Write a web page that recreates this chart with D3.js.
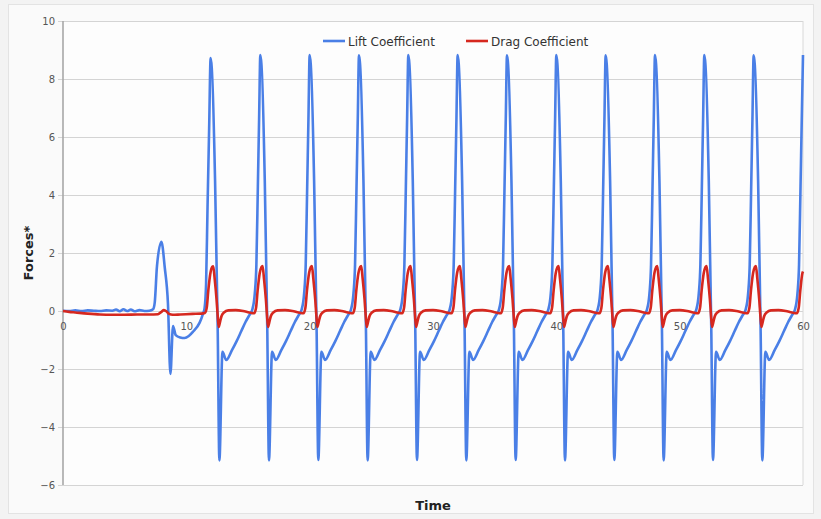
<!DOCTYPE html>
<html>
<head>
<meta charset="utf-8">
<script src="https://cdn.jsdelivr.net/npm/d3@7"></script>
<style>
  html, body { margin: 0; padding: 0; background: #f3f3f3; }
  svg { display: block; }
</style>
</head>
<body>
<svg id="chart" width="821" height="519"></svg>
<script>
// ---- Data ----
const seriesNames = ["Lift Coefficient", "Drag Coefficient"];
const xTickValues = [0, 10, 20, 30, 40, 50, 60];
const yTickValues = [-6, -4, -2, 0, 2, 4, 6, 8, 10];
const xLabel = "Time";
const yLabel = "Forces*";

// Lift coefficient: [time, value]
const liftSeries = [
  [0,0.01],[0.5,0.0],[1,0.02],[1.5,0.0],[2,0.02],[2.5,0.01],[3,0.0],[3.5,0.02],[4,0.01],[4.3,0.05],[4.6,-0.01],[4.9,0.06],[5.2,0.0],[5.5,0.05],[5.8,-0.01],[6.2,0.03],[6.6,0.0],[7.0,0.01],[7.3,0.06],
  [7.44,0.3],[7.62,1.55],[7.98,2.39],[8.25,1.5],[8.51,0.25],[8.71,-2.17],[8.92,-0.52],[9.14,-0.83],[9.5,-0.91],[9.86,-0.93],[10.2,-0.86],[10.53,-0.72],[11.08,-0.4],[11.35,-0.1],[11.48,0.1],[11.6,0.9],[11.72,3.6],[11.85,6.3],[11.97,8.72],
  [12.33,4.5],[12.54,-0.5],[12.68,-5.15],[12.93,-1.41],[13.23,-1.69],[13.7,-1.35],[14.1,-1.02],[14.45,-0.7],[14.8,-0.38],[15.1,-0.15],[15.35,0.05],[15.55,0.6],[15.68,1.6],[15.8,4.3],[15.9,6.6],[16,8.83],
  [16.36,4.5],[16.56,-0.5],[16.7,-5.15],[16.95,-1.41],[17.25,-1.69],[17.7,-1.35],[18.1,-1.02],[18.45,-0.7],[18.8,-0.38],[19.1,-0.15],[19.35,0.05],[19.55,0.6],[19.68,1.6],[19.8,4.3],[19.9,6.6],[20,8.83],
  [20.36,4.5],[20.56,-0.5],[20.7,-5.14],[20.95,-1.41],[21.25,-1.69],[21.7,-1.35],[22.1,-1.02],[22.45,-0.7],[22.8,-0.38],[23.1,-0.15],[23.35,0.05],[23.55,0.6],[23.68,1.6],[23.8,4.3],[23.9,6.6],[24,8.82],
  [24.36,4.5],[24.56,-0.5],[24.7,-5.15],[24.95,-1.41],[25.25,-1.69],[25.7,-1.35],[26.1,-1.02],[26.45,-0.7],[26.8,-0.38],[27.1,-0.15],[27.35,0.05],[27.55,0.6],[27.68,1.6],[27.8,4.3],[27.9,6.6],[28,8.83],
  [28.36,4.5],[28.56,-0.5],[28.7,-5.14],[28.95,-1.41],[29.25,-1.69],[29.7,-1.35],[30.1,-1.02],[30.45,-0.7],[30.8,-0.38],[31.1,-0.15],[31.35,0.05],[31.55,0.6],[31.68,1.6],[31.8,4.3],[31.9,6.6],[32,8.83],
  [32.36,4.5],[32.56,-0.5],[32.7,-5.15],[32.95,-1.41],[33.25,-1.69],[33.7,-1.35],[34.1,-1.02],[34.45,-0.7],[34.8,-0.38],[35.1,-0.15],[35.35,0.05],[35.55,0.6],[35.68,1.6],[35.8,4.3],[35.9,6.6],[36,8.82],
  [36.36,4.5],[36.56,-0.5],[36.7,-5.14],[36.95,-1.41],[37.25,-1.69],[37.7,-1.35],[38.1,-1.02],[38.45,-0.7],[38.8,-0.38],[39.1,-0.15],[39.35,0.05],[39.55,0.6],[39.68,1.6],[39.8,4.3],[39.9,6.6],[40,8.83],
  [40.36,4.5],[40.56,-0.5],[40.7,-5.15],[40.95,-1.41],[41.25,-1.69],[41.7,-1.35],[42.1,-1.02],[42.45,-0.7],[42.8,-0.38],[43.1,-0.15],[43.35,0.05],[43.55,0.6],[43.68,1.6],[43.8,4.3],[43.9,6.6],[44,8.82],
  [44.36,4.5],[44.56,-0.5],[44.7,-5.14],[44.95,-1.41],[45.25,-1.69],[45.7,-1.35],[46.1,-1.02],[46.45,-0.7],[46.8,-0.38],[47.1,-0.15],[47.35,0.05],[47.55,0.6],[47.68,1.6],[47.8,4.3],[47.9,6.6],[48,8.83],
  [48.36,4.5],[48.56,-0.5],[48.7,-5.15],[48.95,-1.41],[49.25,-1.69],[49.7,-1.35],[50.1,-1.02],[50.45,-0.7],[50.8,-0.38],[51.1,-0.15],[51.35,0.05],[51.55,0.6],[51.68,1.6],[51.8,4.3],[51.9,6.6],[52,8.83],
  [52.36,4.5],[52.56,-0.5],[52.7,-5.14],[52.95,-1.41],[53.25,-1.69],[53.7,-1.35],[54.1,-1.02],[54.45,-0.7],[54.8,-0.38],[55.1,-0.15],[55.35,0.05],[55.55,0.6],[55.68,1.6],[55.8,4.3],[55.9,6.6],[56,8.82],
  [56.36,4.5],[56.56,-0.5],[56.7,-5.15],[56.95,-1.41],[57.25,-1.69],[57.7,-1.35],[58.1,-1.02],[58.45,-0.7],[58.8,-0.38],[59.1,-0.15],[59.35,0.05],[59.55,0.6],[59.68,1.6],[59.8,4.3],[59.9,6.6],[60,8.83]
];

// Drag coefficient: [time, value]
const dragSeries = [
  [0,0.0],[0.5,-0.03],[1,-0.05],[2,-0.09],[3,-0.12],[4,-0.13],[5,-0.13],[6,-0.12],[7,-0.12],[7.7,-0.11],[7.95,-0.04],[8.15,0.03],[8.35,0.0],[8.6,-0.1],[8.9,-0.13],[9.5,-0.12],[10.5,-0.1],[11.2,-0.09],[11.5,-0.07],
  [11.65,0.1],[11.78,0.7],[11.95,1.3],[12.1,1.52],[12.18,1.54],[12.3,1.1],[12.45,0.4],[12.55,-0.2],[12.63,-0.55],[12.72,-0.4],[12.85,-0.18],[13.05,-0.05],[13.4,0.02],[14.0,0.03],[14.6,0.0],[15.1,-0.05],[15.5,-0.08],
  [15.65,0.1],[15.78,0.7],[15.95,1.3],[16.1,1.52],[16.18,1.55],[16.3,1.1],[16.45,0.4],[16.55,-0.2],[16.63,-0.55],[16.72,-0.4],[16.85,-0.18],[17.05,-0.05],[17.4,0.02],[18.0,0.03],[18.6,0.0],[19.1,-0.05],[19.5,-0.08],
  [19.65,0.1],[19.78,0.7],[19.95,1.3],[20.1,1.52],[20.18,1.55],[20.3,1.1],[20.45,0.4],[20.55,-0.2],[20.63,-0.55],[20.72,-0.4],[20.85,-0.18],[21.05,-0.05],[21.4,0.02],[22.0,0.03],[22.6,0.0],[23.1,-0.05],[23.5,-0.08],
  [23.65,0.1],[23.78,0.7],[23.95,1.3],[24.1,1.52],[24.18,1.55],[24.3,1.1],[24.45,0.4],[24.55,-0.2],[24.63,-0.55],[24.72,-0.4],[24.85,-0.18],[25.05,-0.05],[25.4,0.02],[26.0,0.03],[26.6,0.0],[27.1,-0.05],[27.5,-0.08],
  [27.65,0.1],[27.78,0.7],[27.95,1.3],[28.1,1.52],[28.18,1.55],[28.3,1.1],[28.45,0.4],[28.55,-0.2],[28.63,-0.55],[28.72,-0.4],[28.85,-0.18],[29.05,-0.05],[29.4,0.02],[30.0,0.03],[30.6,0.0],[31.1,-0.05],[31.5,-0.08],
  [31.65,0.1],[31.78,0.7],[31.95,1.3],[32.1,1.52],[32.18,1.55],[32.3,1.1],[32.45,0.4],[32.55,-0.2],[32.63,-0.55],[32.72,-0.4],[32.85,-0.18],[33.05,-0.05],[33.4,0.02],[34.0,0.03],[34.6,0.0],[35.1,-0.05],[35.5,-0.08],
  [35.65,0.1],[35.78,0.7],[35.95,1.3],[36.1,1.52],[36.18,1.55],[36.3,1.1],[36.45,0.4],[36.55,-0.2],[36.63,-0.55],[36.72,-0.4],[36.85,-0.18],[37.05,-0.05],[37.4,0.02],[38.0,0.03],[38.6,0.0],[39.1,-0.05],[39.5,-0.08],
  [39.65,0.1],[39.78,0.7],[39.95,1.3],[40.1,1.52],[40.18,1.55],[40.3,1.1],[40.45,0.4],[40.55,-0.2],[40.63,-0.55],[40.72,-0.4],[40.85,-0.18],[41.05,-0.05],[41.4,0.02],[42.0,0.03],[42.6,0.0],[43.1,-0.05],[43.5,-0.08],
  [43.65,0.1],[43.78,0.7],[43.95,1.3],[44.1,1.52],[44.18,1.55],[44.3,1.1],[44.45,0.4],[44.55,-0.2],[44.63,-0.55],[44.72,-0.4],[44.85,-0.18],[45.05,-0.05],[45.4,0.02],[46.0,0.03],[46.6,0.0],[47.1,-0.05],[47.5,-0.08],
  [47.65,0.1],[47.78,0.7],[47.95,1.3],[48.1,1.52],[48.18,1.55],[48.3,1.1],[48.45,0.4],[48.55,-0.2],[48.63,-0.55],[48.72,-0.4],[48.85,-0.18],[49.05,-0.05],[49.4,0.02],[50.0,0.03],[50.6,0.0],[51.1,-0.05],[51.5,-0.08],
  [51.65,0.1],[51.78,0.7],[51.95,1.3],[52.1,1.52],[52.18,1.55],[52.3,1.1],[52.45,0.4],[52.55,-0.2],[52.63,-0.55],[52.72,-0.4],[52.85,-0.18],[53.05,-0.05],[53.4,0.02],[54.0,0.03],[54.6,0.0],[55.1,-0.05],[55.5,-0.08],
  [55.65,0.1],[55.78,0.7],[55.95,1.3],[56.1,1.52],[56.18,1.55],[56.3,1.1],[56.45,0.4],[56.55,-0.2],[56.63,-0.55],[56.72,-0.4],[56.85,-0.18],[57.05,-0.05],[57.4,0.02],[58.0,0.03],[58.6,0.0],[59.1,-0.05],[59.5,-0.08],
  [59.65,0.1],[59.78,0.7],[59.95,1.3],[60,1.36]
];

const seriesColors = ["#4a7fe6", "#d6281f"];

// ---- Layout ----
const W = 821, H = 519;
const margin = { top: 21, right: 18, bottom: 34, left: 63 };
const iw = W - margin.left - margin.right;
const ih = H - margin.top - margin.bottom;

const svg = d3.select("#chart");
svg.append("rect").attr("x", 0).attr("y", 0).attr("width", W).attr("height", H).attr("fill", "#f3f3f3");
svg.append("rect").attr("x", 8.5).attr("y", 4.5).attr("width", 805).attr("height", 509)
  .attr("fill", "#fafafa").attr("stroke", "#e3e3e3");

const g = svg.append("g").attr("transform", `translate(${margin.left},${margin.top})`);

const x = d3.scaleLinear().domain([0, 60]).range([0, iw]);
const y = d3.scaleLinear().domain([-6, 10]).range([ih, 0]);

g.append("rect").attr("width", iw).attr("height", ih).attr("fill", "#fdfdfd");

// Y axis with gridlines
const yAxis = g.append("g")
  .call(d3.axisLeft(y).tickValues(yTickValues).tickFormat(d3.format("d")).tickSize(6).tickPadding(8));
yAxis.select(".domain").remove();
yAxis.selectAll(".tick line").attr("x1", -5).attr("x2", iw).attr("stroke", "#d4d4d4").attr("stroke-width", 1);
yAxis.selectAll(".tick text").attr("x", -8).attr("fill", "#555")
  .style("font-family", "'DejaVu Sans', Verdana, sans-serif").style("font-size", "10px");

// right border
g.append("line").attr("x1", iw).attr("x2", iw).attr("y1", 0).attr("y2", ih)
  .attr("stroke", "#d8d8d8").attr("stroke-width", 1);

// vertical axis line
g.append("line").attr("x1", 0).attr("x2", 0).attr("y1", 0).attr("y2", ih)
  .attr("stroke", "#a8a8a8").attr("stroke-width", 1.6);

// Series lines
const line = d3.line().x(d => x(d[0])).y(d => y(d[1])).curve(d3.curveMonotoneX);
[liftSeries, dragSeries].forEach((s, i) => {
  g.append("path").datum(s).attr("fill", "none")
    .attr("stroke", seriesColors[i]).attr("stroke-width", 2.6)
    .attr("stroke-linejoin", "round").attr("d", line);
});

// X axis labels at y=0
const xAxis = g.append("g").attr("transform", `translate(0,${y(0)})`)
  .call(d3.axisBottom(x).tickValues(xTickValues).tickSize(0).tickPadding(12));
xAxis.select(".domain").remove();
xAxis.selectAll(".tick text").attr("fill", "#555")
  .style("font-family", "'DejaVu Sans', Verdana, sans-serif").style("font-size", "10px");

// Legend
const legendItems = [{ x: 323 }, { x: 466 }];
legendItems.forEach((it, i) => {
  svg.append("line").attr("x1", it.x).attr("x2", it.x + 22).attr("y1", 41).attr("y2", 41)
    .attr("stroke", seriesColors[i]).attr("stroke-width", 2.6);
  svg.append("text").attr("x", it.x + 25).attr("y", 45.5).text(seriesNames[i])
    .attr("fill", "#333").style("font-family", "'DejaVu Sans', Verdana, sans-serif").style("font-size", "12px");
});

// Axis titles
svg.append("text").attr("x", margin.left + iw / 2).attr("y", 510).attr("text-anchor", "middle")
  .text(xLabel).attr("fill", "#222")
  .style("font-family", "'DejaVu Sans', Verdana, sans-serif").style("font-size", "13px").style("font-weight", "bold");
svg.append("text").attr("transform", `translate(33,${margin.top + ih / 2}) rotate(-90)`)
  .attr("text-anchor", "middle").text(yLabel).attr("fill", "#222")
  .style("font-family", "'DejaVu Sans', Verdana, sans-serif").style("font-size", "13px").style("font-weight", "bold");
</script>
</body>
</html>
